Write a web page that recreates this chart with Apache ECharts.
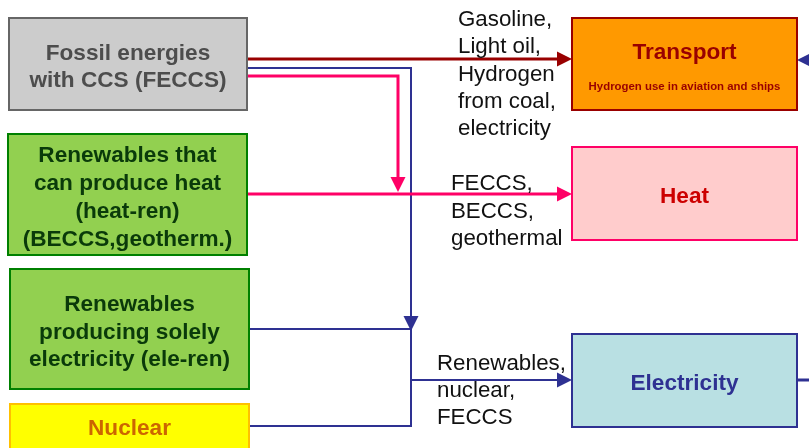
<!DOCTYPE html>
<html><head><meta charset="utf-8">
<script src="https://cdn.jsdelivr.net/npm/echarts@6/dist/echarts.min.js"></script>
<style>html,body{margin:0;padding:0;background:#fff}#c{width:809px;height:448px}</style>
</head><body><div id="c"></div>
<script>
// ---- data (text content) ----
const fossilLines = ['Fossil energies', 'with CCS (FECCS)'];
const heatRenLines = ['Renewables that', 'can produce heat', '(heat-ren)', '(BECCS,geotherm.)'];
const eleRenLines = ['Renewables', 'producing solely', 'electricity (ele-ren)'];
const nuclearLines = ['Nuclear'];
const transportTitle = 'Transport';
const transportSub = 'Hydrogen use in aviation and ships';
const heatTitle = 'Heat';
const electricityTitle = 'Electricity';
const transportFlowLabel = ['Gasoline,', 'Light oil,', 'Hydrogen', 'from coal,', 'electricity'];
const heatFlowLabel = ['FECCS,', 'BECCS,', 'geothermal'];
const elecFlowLabel = ['Renewables,', 'nuclear,', 'FECCS'];

// ---- layout / styles ----
const FONT = 'Liberation Sans, Arial, sans-serif';
const RED = '#990000', PINK = '#ff0066', BLUE = '#2e3192';
const DY = 2; // baseline correction for vertical centring
const boxes = [
  {x:9, y:18, w:238, h:92, fill:'#cccccc', stroke:'#666666', color:'#4d4d4d', lines:fossilLines, cy:65.5, lh:27},
  {x:8, y:134, w:239, h:121, fill:'#92d050', stroke:'#008000', color:'#0a3a0a', lines:heatRenLines, cy:196, lh:28},
  {x:10, y:269, w:239, h:120, fill:'#92d050', stroke:'#008000', color:'#0a3a0a', lines:eleRenLines, cy:330.5, lh:27.5},
  {x:10, y:404, w:239, h:60, fill:'#ffff00', stroke:'#ffc000', color:'#cc6600', lines:nuclearLines, cy:427, lh:27},
  {x:572, y:18, w:225, h:92, fill:'#ff9900', stroke:'#990000', color:'#990000', lines:[transportTitle], cy:51, lh:27},
  {x:572, y:147, w:225, h:93, fill:'#ffcccc', stroke:'#ff0066', color:'#cc0000', lines:[heatTitle], cy:195, lh:27},
  {x:572, y:334, w:225, h:93, fill:'#b9e0e3', stroke:'#2e3192', color:'#2e3192', lines:[electricityTitle], cy:382, lh:27}
];

const g = [];
function line(points, stroke, w) {
  g.push({type:'polyline', shape:{points}, style:{stroke, lineWidth:w, fill:null}, z:5});
}
function arrow(tip, dir, color) {
  const [x,y] = tip, L = 15, H = 7.5;
  let pts;
  if (dir === 'right') pts = [[x,y],[x-L,y-H],[x-L,y+H]];
  else if (dir === 'left') pts = [[x,y],[x+L,y-H],[x+L,y+H]];
  else pts = [[x,y],[x-H,y-L],[x+H,y-L]];
  g.push({type:'polygon', shape:{points:pts}, style:{fill:color}, z:6});
}
function text(str, x, y, size, weight, color, align) {
  g.push({type:'text', z:10, style:{text:str, x, y: y + DY, fontSize:size, fontWeight:weight, fontFamily:FONT,
    fill:color, align:align || 'center', verticalAlign:'middle'}});
}

// connectors
line([[247,59],[566,59]], RED, 3);
arrow([572,59], 'right', RED);
line([[247,68],[411,68],[411,426],[247,426]], BLUE, 2);
line([[247,76],[398,76],[398,186]], PINK, 3);
arrow([398,192], 'down', PINK);
line([[247,194],[566,194]], PINK, 3);
arrow([572,194], 'right', PINK);
line([[249,329],[411,329]], BLUE, 2);
arrow([411,331], 'down', BLUE);
line([[411,380],[566,380]], BLUE, 2);
arrow([572,380], 'right', BLUE);
line([[797,380],[809,380]], BLUE, 3);
arrow([797,60], 'left', BLUE);
line([[805,60],[812,60]], BLUE, 3);

// boxes
boxes.forEach(b => {
  g.push({type:'rect', z:8, shape:{x:b.x, y:b.y, width:b.w, height:b.h},
    style:{fill:b.fill, stroke:b.stroke, lineWidth:2}});
  const n = b.lines.length;
  b.lines.forEach((s, i) => {
    text(s, b.x + b.w/2, b.cy + (i - (n-1)/2) * b.lh, 22.6, 'bold', b.color);
  });
});
text(transportSub, 684.5, 85, 11.4, 'bold', '#990000');

// flow labels
transportFlowLabel.forEach((s,i) => text(s, 458, 18 + i*27.2, 22.3, 'normal', '#111111', 'left'));
heatFlowLabel.forEach((s,i) => text(s, 451, 182 + i*27.5, 22.3, 'normal', '#111111', 'left'));
elecFlowLabel.forEach((s,i) => text(s, 437, 362 + i*27, 22.3, 'normal', '#111111', 'left'));

const chart = echarts.init(document.getElementById('c'), null, {renderer:'canvas'});
chart.setOption({animation:false, backgroundColor:'#ffffff', graphic:{elements:g}});
</script>
</body></html>
